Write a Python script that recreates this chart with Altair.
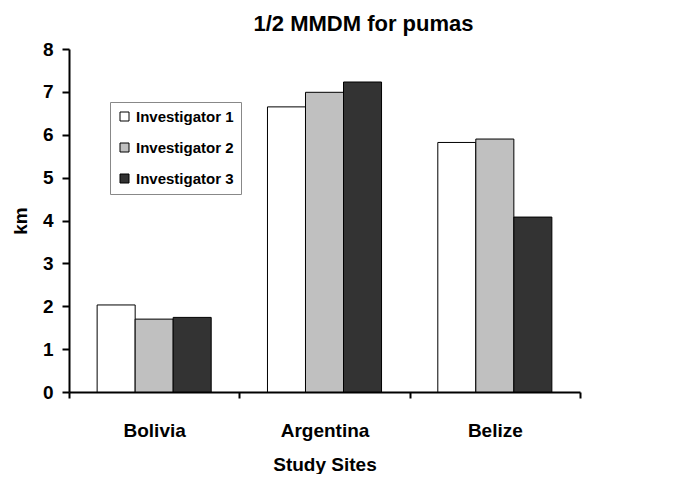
import altair as alt
import pandas as pd

sites = ["Bolivia", "Argentina", "Belize"]
investigators = ["Investigator 1", "Investigator 2", "Investigator 3"]
inv1 = [2.03, 6.65, 5.82]
inv2 = [1.70, 6.99, 5.90]
inv3 = [1.74, 7.23, 4.08]
colors = ["#ffffff", "#c0c0c0", "#333333"]
y_ticks = [0, 1, 2, 3, 4, 5, 6, 7, 8]

rows = []
for i, s in enumerate(sites):
    for name, vals in zip(investigators, [inv1, inv2, inv3]):
        rows.append({"site": s, "inv": name, "km": vals[i]})
df = pd.DataFrame(rows)

FONT = "Liberation Sans"

chart = alt.Chart(df).mark_bar(stroke="black", strokeWidth=1).encode(
    x=alt.X("site:N", sort=sites, title="Study Sites",
            scale=alt.Scale(paddingInner=0, paddingOuter=0),
            axis=alt.Axis(labelAngle=0, tickBand="extent", tickSize=6,
                          labelPadding=23, titlePadding=15,
                          labelFontSize=19, titleFontSize=19,
                          labelFontWeight="bold", titleFontWeight="bold",
                          domainColor="black", tickColor="black",
                          labelColor="black", titleColor="black",
                          domainWidth=2, tickWidth=2)),
    xOffset=alt.XOffset("inv:N", sort=investigators,
                        scale=alt.Scale(paddingInner=0, paddingOuter=0.74)),
    y=alt.Y("km:Q", title="km",
            scale=alt.Scale(domain=[0, 8], nice=False),
            axis=alt.Axis(values=y_ticks, grid=False, tickSize=7,
                          labelPadding=9, titlePadding=12,
                          labelFontSize=19, titleFontSize=19,
                          labelFontWeight="bold", titleFontWeight="bold",
                          domainColor="black", tickColor="black",
                          labelColor="black", titleColor="black",
                          domainWidth=2, tickWidth=2)),
    fill=alt.Fill("inv:N", sort=investigators,
                  scale=alt.Scale(domain=investigators, range=colors),
                  legend=alt.Legend(title=None, orient="none",
                                    legendX=41, legendY=53,
                                    symbolType="square", symbolSize=81,
                                    symbolStrokeColor="black", symbolStrokeWidth=1,
                                    labelFontSize=15, labelFontWeight="bold",
                                    labelColor="black", rowPadding=15,
                                    labelOffset=4, labelLimit=300,
                                    strokeColor="#888888", padding=7,
                                    fillColor="white")),
).properties(
    width=511, height=343,
    title=alt.TitleParams("1/2 MMDM for pumas", fontSize=22, fontWeight="bold",
                          font=FONT, color="black", offset=4, dx=39),
    padding={"left": 3, "top": 5, "right": 5, "bottom": 0},
).configure(font=FONT).configure_view(stroke=None)

chart.save("out.html", embed_options={"renderer": "svg", "actions": False})
